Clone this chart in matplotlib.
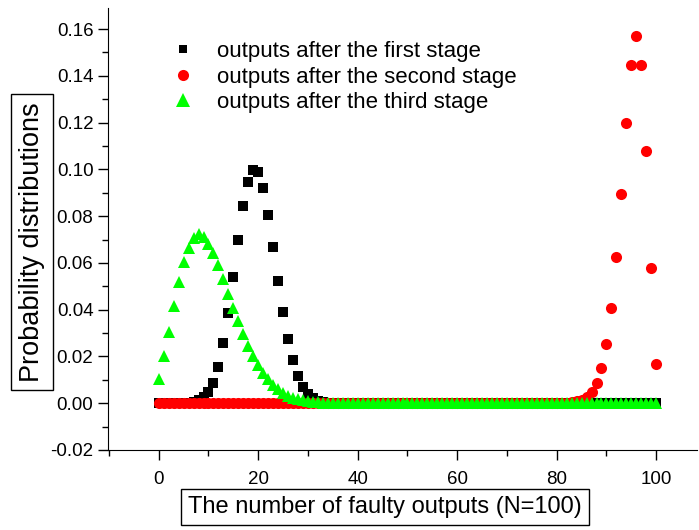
import matplotlib
matplotlib.use("Agg")
import matplotlib.pyplot as plt
from matplotlib.ticker import MultipleLocator
import numpy as np

plt.rcParams['font.family'] = ['Liberation Sans', 'DejaVu Sans']

# number of faulty outputs
faulty = list(range(101))

# outputs after the first stage (black squares)
first_stage = ([0.0] * 5 +
               [0.0001, 0.0002, 0.0005, 0.0012, 0.0025, 0.0046, 0.0085, 0.0154,
                0.0256, 0.0387, 0.0539, 0.0697, 0.0842, 0.0948, 0.0998, 0.0987,
                0.0920, 0.0803, 0.0667, 0.0522, 0.0390, 0.0273, 0.0185, 0.0117,
                0.0071, 0.0040, 0.0022, 0.0011, 0.0005, 0.0002, 0.0001] +
               [0.0] * 65)

# outputs after the second stage (red circles)
second_stage = ([0.0] * 81 +
                [0.0001, 0.0002, 0.0004, 0.0008, 0.0014, 0.0026, 0.0048, 0.0087,
                 0.0151, 0.0252, 0.0407, 0.0624, 0.0896, 0.1198, 0.1448, 0.1570,
                 0.1448, 0.1080, 0.0577, 0.0166])

# outputs after the third stage (green triangles)
third_stage = ([0.0105, 0.0202, 0.0304, 0.0415, 0.0518, 0.0603, 0.0664, 0.0707,
                0.0725, 0.0711, 0.0681, 0.0643, 0.0589, 0.0532, 0.0469, 0.0408,
                0.0351, 0.0297, 0.0245, 0.0202, 0.0162, 0.0131, 0.0102, 0.0079,
                0.0060, 0.0045, 0.0033, 0.0024, 0.0017, 0.0012, 0.0008, 0.0006,
                0.0004, 0.0003, 0.0002, 0.0001] +
               [0.0] * 65)

labels = ['outputs after the first stage',
          'outputs after the second stage',
          'outputs after the third stage']

fig = plt.figure(figsize=(6.99, 5.30), dpi=100)
ax = fig.add_axes([108 / 699, 1 - 450 / 530, (697 - 108) / 699, (450 - 8) / 530])

ax.plot(faulty, first_stage, linestyle='none', marker='s', markersize=6.5,
        color='black', markeredgewidth=0, label=labels[0])
ax.plot(faulty, second_stage, linestyle='none', marker='o', markersize=8,
        color='#ff0000', markeredgewidth=0, label=labels[1])
ax.plot(faulty, third_stage, linestyle='none', marker='^', markersize=8.5,
        color='#00ff00', markeredgewidth=0, label=labels[2])

ax.set_xlim(-10.2, 108.2)
ax.set_ylim(-0.02, 0.169)
ax.spines['top'].set_visible(False)
ax.spines['right'].set_visible(False)
ax.xaxis.set_minor_locator(MultipleLocator(10))
ax.yaxis.set_minor_locator(MultipleLocator(0.01))
ax.set_xticks(np.arange(0, 101, 20))
ax.set_yticks(np.arange(-0.02, 0.161, 0.02))
ax.yaxis.set_major_formatter(matplotlib.ticker.FormatStrFormatter('%.2f'))
ax.tick_params(which='major', direction='out', length=7, width=1, labelsize=13.5)
ax.tick_params(which='minor', direction='out', length=4, width=1)
ax.tick_params(axis='x', pad=8)

leg = ax.legend(loc='upper left', bbox_to_anchor=(150 / 699, 1 - 30 / 530),
                bbox_transform=fig.transFigure, frameon=False, fontsize=16,
                handletextpad=0.5, labelspacing=0.2, borderpad=0)
for h, ms in zip(leg.legend_handles, [6, 8, 9.5]):
    h.set_markersize(ms)

box = dict(boxstyle='square,pad=0.3', facecolor='white', edgecolor='black', linewidth=1)
fig.text(385 / 699, 1 - 507 / 530, 'The number of faulty outputs (N=100)',
         ha='center', va='center', fontsize=17, bbox=box)
fig.text(32 / 699, 1 - 242 / 530, 'Probability distributions',
         ha='center', va='center', rotation=90, fontsize=19.5, bbox=box)

fig.savefig('out.png', dpi=100)
